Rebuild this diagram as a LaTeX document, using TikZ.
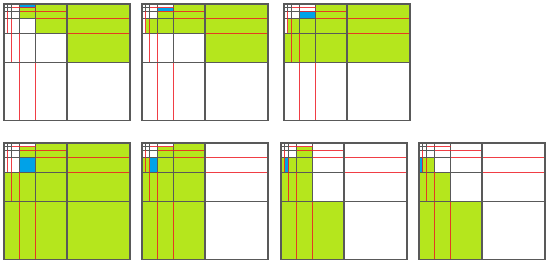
\documentclass[tikz,border=0pt]{standalone}
\definecolor{lime}{HTML}{B5E61D}
\definecolor{cellblue}{HTML}{00A2E8}
\definecolor{linered}{HTML}{ED1C24}
\tikzset{
  gridln/.style={draw=black!65, line width=0.9pt},
  outerln/.style={draw=black!65, line width=1.3pt},
  redln/.style={draw=linered, draw opacity=0.85, line width=1.1pt},
  grn/.style={fill=lime},
  blu/.style={fill=cellblue},
  panel/.style={x=3.9375pt, y=-3.64pt}
}
\newcommand{\mygrid}{%
  \draw[gridln] (1,0) -- (1,2);
  \draw[gridln] (0,1) -- (2,1);
  \draw[gridln] (2,0) -- (2,4);
  \draw[gridln] (0,2) -- (4,2);
  \draw[gridln] (4,0) -- (4,8);
  \draw[gridln] (0,4) -- (8,4);
  \draw[gridln] (8,0) -- (8,16);
  \draw[gridln] (0,8) -- (16,8);
  \draw[redln] (2,1) -- (8,1);
  \draw[redln] (4,2) -- (16,2);
  \draw[redln] (8,4) -- (32,4);
  \draw[redln] (16,8) -- (32,8);
  \draw[redln] (1,2) -- (1,8);
  \draw[redln] (2,4) -- (2,16);
  \draw[redln] (4,8) -- (4,32);
  \draw[redln] (8,16) -- (8,32);
  \draw[outerln] (16,0) -- (16,32);
  \draw[outerln] (0,16) -- (32,16);
  \draw[outerln] (0,0) rectangle (32,32);
}
\begin{document}
\begin{tikzpicture}[x=1pt,y=-1pt]
\useasboundingbox (0,0) rectangle (550,264);
% panel 1
\begin{scope}[shift={(4,4)}, panel]
  \fill[grn] (16,0) rectangle (32,16);
  \fill[grn] (8,0) rectangle (16,8);
  \fill[grn] (4,1) rectangle (8,4);
  \fill[blu] (4,0) rectangle (8,1);
  \mygrid
\end{scope}
% panel 2
\begin{scope}[shift={(142,4)}, panel]
  \fill[grn] (16,0) rectangle (32,16);
  \fill[grn] (8,0) rectangle (16,8);
  \fill[grn] (4,2) rectangle (8,8);
  \fill[grn] (1,4) rectangle (4,8);
  \fill[blu] (4,1) rectangle (8,2);
  \mygrid
\end{scope}
% panel 3
\begin{scope}[shift={(284,4)}, panel]
  \fill[grn] (8,0) rectangle (32,16);
  \fill[grn] (0,8) rectangle (8,16);
  \fill[grn] (4,4) rectangle (8,8);
  \fill[grn] (1,4) rectangle (4,8);
  \fill[blu] (4,2) rectangle (8,4);
  \mygrid
\end{scope}
% panel 4
\begin{scope}[shift={(4,143)}, panel]
  \fill[grn] (8,0) rectangle (32,32);
  \fill[grn] (0,8) rectangle (8,32);
  \fill[grn] (4,1) rectangle (8,4);
  \fill[blu] (4,4) rectangle (8,8);
  \mygrid
\end{scope}
% panel 5
\begin{scope}[shift={(142,143)}, panel]
  \fill[grn] (8,0) rectangle (16,32);
  \fill[grn] (0,8) rectangle (8,32);
  \fill[grn] (4,1) rectangle (8,8);
  \fill[grn] (0,4) rectangle (2,8);
  \fill[blu] (2,4) rectangle (4,8);
  \mygrid
\end{scope}
% panel 6
\begin{scope}[shift={(281,143)}, panel]
  \fill[grn] (0,16) rectangle (16,32);
  \fill[grn] (0,8) rectangle (8,16);
  \fill[grn] (0,4) rectangle (1,8);
  \fill[grn] (2,4) rectangle (8,8);
  \fill[grn] (4,1) rectangle (8,4);
  \fill[blu] (1,4) rectangle (2,8);
  \mygrid
\end{scope}
% panel 7
\begin{scope}[shift={(419,143)}, panel]
  \fill[grn] (0,16) rectangle (16,32);
  \fill[grn] (0,8) rectangle (8,16);
  \fill[grn] (1,4) rectangle (4,8);
  \fill[blu] (0,4) rectangle (1,8);
  \mygrid
\end{scope}
\end{tikzpicture}
\end{document}
